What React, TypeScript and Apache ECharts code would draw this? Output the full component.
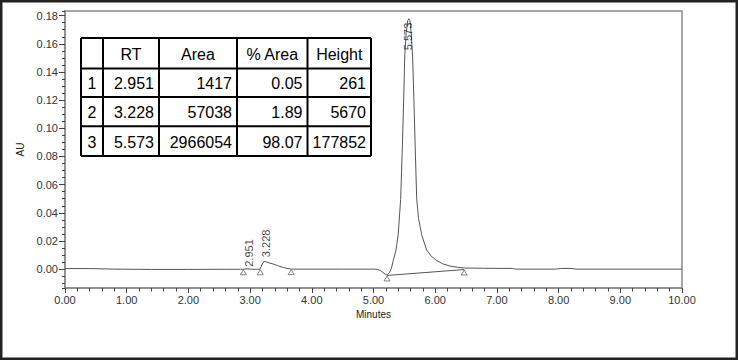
import React, { useEffect, useRef } from "react";
import * as echarts from "echarts";

// Chromatogram trace: [minutes, AU]
const trace: [number, number][] = [
  [0.0, 0.0004], [0.4, 0.0004], [0.8, 0.0], [1.4, -0.0002], [2.0, -0.0002],
  [2.6, -0.0001], [2.85, -0.0001], [2.9, -0.0001], [2.951, 0.0002], [3.0, 0.0],
  [3.1, -0.0001], [3.16, -0.0001], [3.19, 0.003], [3.228, 0.0056], [3.27, 0.005],
  [3.32, 0.0043], [3.376, 0.0036], [3.45, 0.0024], [3.538, 0.0012], [3.6, 0.0005],
  [3.67, 0.0], [4.0, 0.0], [4.5, 0.0], [5.0, 0.0], [5.07, -0.0002],
  [5.12, -0.0012], [5.17, -0.003], [5.22, -0.0042], [5.26, -0.0025], [5.29, 0.0005],
  [5.32, 0.006], [5.365, 0.0136], [5.4, 0.0245], [5.44, 0.0495], [5.465, 0.083],
  [5.489, 0.12], [5.505, 0.15], [5.53, 0.168], [5.555, 0.1765], [5.573, 0.1778],
  [5.59, 0.1765], [5.61, 0.168], [5.635, 0.15], [5.655, 0.12], [5.675, 0.088],
  [5.7, 0.05], [5.73, 0.036], [5.78, 0.0245], [5.86, 0.0136], [5.94, 0.009],
  [6.02, 0.0062], [6.12, 0.0038], [6.24, 0.0022], [6.36, 0.0013], [6.48, 0.0008],
  [6.8, 0.0006], [7.25, 0.0005], [7.3, 0.0], [7.95, 0.0], [8.05, 0.0005],
  [8.2, 0.0005], [8.28, 0.0], [10.0, 0.0],
];

// Integration baseline of the main peak
const mainPeakBaseline: [number, number][] = [[5.22, -0.0045], [6.47, -0.0003]];

// Peak start / end markers
const boundaryMarks: [number, number][] = [
  [2.89, -0.0001], [3.165, -0.0001], [3.665, 0.0], [5.22, -0.0045], [6.47, -0.0003],
];

// Peak table
const tableHeaders = ["", "RT", "Area", "% Area", "Height"];
const peakNo = [1, 2, 3];
const peakRT = [2.951, 3.228, 5.573];
const peakArea = [1417, 57038, 2966054];
const peakPctArea = [0.05, 1.89, 98.07];
const peakHeight = [261, 5670, 177852]; // µAU

// Axis ranges
const xMin = 0;
const xMax = 10;
const yMin = -0.0134;
const yMax = 0.1833;

// Styles / layout (not data)
const FONT = "Liberation Sans";
const peakLabelStyle = [
  { position: [2, -2], align: "left" },
  { position: [1.5, -4], align: "left" },
  { position: [-1, 4], align: "right" },
];
const colX = [81, 103, 159, 237, 307.5, 371];
const rowY = [38, 68.5, 97, 126.3, 156];

function buildTable(): any[] {
  const els: any[] = [];
  const lineStyle = { stroke: "#000", lineWidth: 2 };
  colX.forEach((x) =>
    els.push({ type: "line", shape: { x1: x, y1: rowY[0], x2: x, y2: rowY[rowY.length - 1] }, style: lineStyle })
  );
  rowY.forEach((y) =>
    els.push({ type: "line", shape: { x1: colX[0], y1: y, x2: colX[colX.length - 1], y2: y }, style: lineStyle })
  );
  const txt = (s: string, c: number, r: number, align: string) => {
    const x0 = colX[c], x1 = colX[c + 1];
    const x = align === "center" ? (x0 + x1) / 2 : x1 - 5;
    const y = (rowY[r] + rowY[r + 1]) / 2 + 1;
    els.push({
      type: "text",
      style: {
        text: s, x, y, align, textAlign: align, verticalAlign: "middle", textVerticalAlign: "middle",
        fontSize: 16, fontFamily: FONT, fill: "#000",
      },
    });
  };
  tableHeaders.forEach((h, c) => { if (h) txt(h, c, 0, "center"); });
  peakNo.forEach((n, i) => {
    txt(String(n), 0, i + 1, "center");
    txt(peakRT[i].toFixed(3), 1, i + 1, "right");
    txt(String(peakArea[i]), 2, i + 1, "right");
    txt(peakPctArea[i].toFixed(2), 3, i + 1, "right");
    txt(String(peakHeight[i]), 4, i + 1, "right");
  });
  return els;
}

export default function App() {
  const ref = useRef<HTMLDivElement>(null);
  useEffect(() => {
    document.body.style.margin = "0";
    const chart = echarts.init(ref.current!, null, { renderer: "svg" });
    const axisLine = { show: true, lineStyle: { color: "#8a8a8a", width: 1.5 } };
    const option: any = {
      animation: false,
      backgroundColor: "#fff",
      textStyle: { fontFamily: FONT },
      grid: {
        left: 65, right: 56, top: 11, bottom: 72,
        show: true, borderColor: "#8a8a8a", borderWidth: 1.5,
        outerBoundsMode: "none",
      },
      xAxis: {
        type: "value", min: xMin, max: xMax, interval: 1,
        axisLine: { ...axisLine, onZero: false },
        axisTick: { show: true, length: 5, lineStyle: { color: "#444", width: 1 } },
        minorTick: { show: true, splitNumber: 5, length: 3.5, lineStyle: { color: "#444", width: 1 } },
        splitLine: { show: false },
        axisLabel: { formatter: (v: number) => v.toFixed(2), fontSize: 11, color: "#333", margin: 6, fontFamily: FONT },
        name: "Minutes", nameLocation: "middle", nameGap: 20,
        nameTextStyle: { fontSize: 10, color: "#222", fontFamily: FONT },
      },
      yAxis: [
        {
          type: "value", position: "left", min: yMin, max: yMax, splitNumber: 10,
          axisLine: { ...axisLine, onZero: false },
          axisTick: { show: true, length: 6, lineStyle: { color: "#444", width: 1 } },
          splitLine: { show: false },
          axisLabel: {
            formatter: (v: number) => v.toFixed(2), fontSize: 11, color: "#333", margin: 7,
            showMinLabel: false, showMaxLabel: false, fontFamily: FONT,
          },
          name: "AU", nameLocation: "middle", nameGap: 31,
          nameTextStyle: { fontSize: 10, color: "#222", fontFamily: FONT },
        },
        {
          type: "value", position: "left", min: yMin, max: yMax, splitNumber: 40,
          axisLine: { show: false },
          axisTick: { show: true, length: 3, lineStyle: { color: "#444", width: 1 } },
          splitLine: { show: false },
          axisLabel: { show: false },
        },
      ],
      series: [
        {
          type: "line", data: trace, showSymbol: false, symbol: "none",
          lineStyle: { color: "#555", width: 1 }, z: 3,
        },
        {
          type: "line", data: mainPeakBaseline, showSymbol: false, symbol: "none",
          lineStyle: { color: "#555", width: 1 }, z: 3,
        },
        {
          type: "scatter", data: boundaryMarks, symbol: "triangle", symbolSize: [6, 5],
          symbolOffset: [0, 3],
          itemStyle: { color: "#fff", borderColor: "#444", borderWidth: 0.8 }, z: 4,
        },
        {
          type: "scatter", symbolSize: 0.01, z: 5,
          data: peakRT.map((t, i) => ({
            value: [t, peakHeight[i] * 1e-6],
            label: {
              show: true, formatter: t.toFixed(3), rotate: 90,
              position: peakLabelStyle[i].position, align: peakLabelStyle[i].align,
              verticalAlign: "middle", fontSize: 11, color: "#111", fontFamily: FONT,
            },
          })),
        },
      ],
      graphic: [
        ...buildTable(),
        {
          type: "rect", shape: { x: 1.25, y: 1.25, width: 735.5, height: 357.5 },
          style: { fill: "none", stroke: "#222", lineWidth: 2.5 }, z: 100,
        },
      ],
    };
    chart.setOption(option);
    return () => chart.dispose();
  }, []);
  return <div ref={ref} style={{ width: 738, height: 360 }} />;
}
